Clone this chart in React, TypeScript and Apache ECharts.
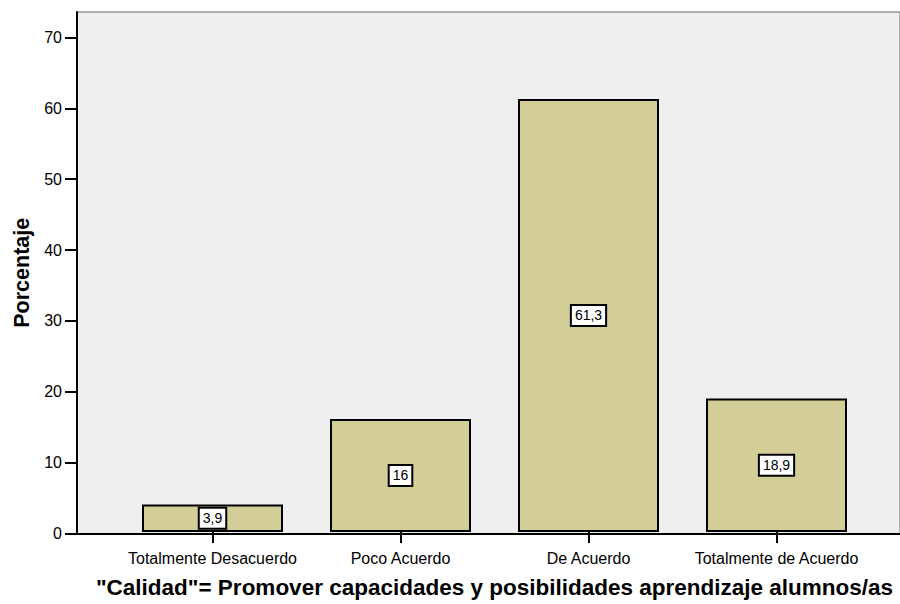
import React, { useEffect, useRef } from "react";
import * as echarts from "echarts";

const categories = ["Totalmente Desacuerdo", "Poco Acuerdo", "De Acuerdo", "Totalmente de Acuerdo"];
const values = [3.9, 16, 61.3, 18.9];
const yTicks = [0, 10, 20, 30, 40, 50, 60, 70];
const yMax = 73.6;
const xTitle = '"Calidad"= Promover capacidades y posibilidades aprendizaje alumnos/as';
const yTitle = "Porcentaje";

const FONT = "Arial, 'Liberation Sans', Helvetica, sans-serif";

export default function App() {
  const ref = useRef<HTMLDivElement>(null);
  useEffect(() => {
    if (!ref.current) return;
    const chart = echarts.init(ref.current, undefined, { renderer: "svg" });
    chart.setOption({
      animation: false,
      backgroundColor: "#ffffff",
      textStyle: { fontFamily: FONT },
      grid: [
        {
          left: 77, top: 12, right: -2, bottom: 70.5,
          show: true, backgroundColor: "#efefef", borderColor: "#6b6b6b", borderWidth: 1,
        },
        { left: 118.5, top: 12, right: 29.5, bottom: 70.5 },
      ],
      xAxis: [
        {
          gridIndex: 0, type: "value", min: 0, max: 1,
          axisLine: { show: true, onZero: false, lineStyle: { color: "#000", width: 2 } },
          axisTick: { show: false }, axisLabel: { show: false }, splitLine: { show: false },
        },
        {
          gridIndex: 1, type: "category", data: categories, boundaryGap: true,
          axisLine: { show: false },
          axisTick: { show: true, alignWithLabel: true, interval: 0, length: 11, lineStyle: { color: "#000", width: 2 } },
          axisLabel: { interval: 0, fontSize: 16, color: "#000", margin: 18, fontFamily: FONT },
          name: xTitle, nameLocation: "middle", nameGap: 44,
          nameTextStyle: { fontSize: 22.5, fontWeight: "bold", color: "#000", fontFamily: FONT },
        },
      ],
      yAxis: [
        {
          gridIndex: 0, type: "value", min: 0, max: yMax,
          axisLine: { show: true, lineStyle: { color: "#000", width: 2 } },
          axisTick: { show: true, length: 12, customValues: yTicks, lineStyle: { color: "#000", width: 2 } },
          axisLabel: { customValues: yTicks, fontSize: 16, color: "#000", margin: 15, fontFamily: FONT },
          splitLine: { show: false },
          name: yTitle, nameLocation: "middle", nameGap: 44,
          nameTextStyle: { fontSize: 21.5, fontWeight: "bold", color: "#000", fontFamily: FONT },
        },
        { gridIndex: 1, type: "value", min: 0, max: yMax, show: false },
      ],
      series: [
        {
          type: "bar", xAxisIndex: 1, yAxisIndex: 1, data: values, barWidth: 141,
          itemStyle: { color: "#d3ce98", borderColor: "#000", borderWidth: 2 },
          label: {
            show: true, position: "inside",
            formatter: (p: any) => String(p.value).replace(".", ","),
            backgroundColor: "#fff", borderColor: "#000", borderWidth: 2,
            padding: [3, 3, 2, 3], fontSize: 14, color: "#000", fontFamily: FONT,
          },
        },
      ],
    });
    return () => chart.dispose();
  }, []);
  return <div ref={ref} style={{ position: "absolute", left: 0, top: 0, width: 900, height: 604 }} />;
}
